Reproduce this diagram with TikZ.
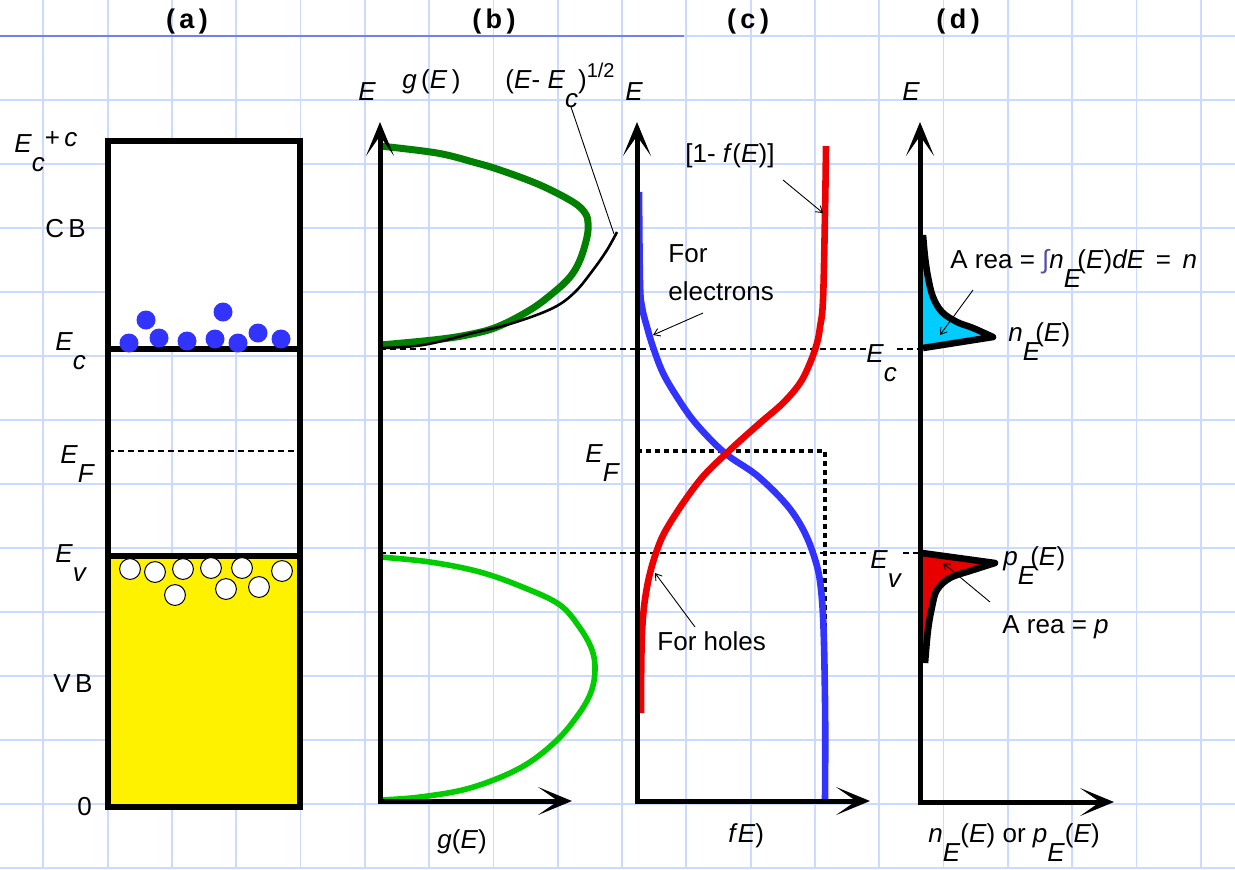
\documentclass[tikz,border=0pt]{standalone}
\usepackage{fontspec}
\setmainfont{Liberation Sans}
\usepackage{xcolor}
\usepackage{tikz}
\usetikzlibrary{arrows.meta}

\definecolor{gridblue}{RGB}{205,218,255}
\definecolor{topblue}{RGB}{110,130,235}
\definecolor{cbgreen}{RGB}{0,128,0}
\definecolor{vbgreen}{RGB}{0,204,0}
\definecolor{fblue}{RGB}{51,51,255}
\definecolor{fred}{RGB}{236,0,0}
\definecolor{ncyan}{RGB}{0,204,255}
\definecolor{pred}{RGB}{232,0,0}
\definecolor{intblue}{RGB}{80,80,170}

\newcommand{\iv}[1]{\textit{#1}}
\newcommand{\lo}[1]{\raisebox{-0.75em}{#1}}

\begin{document}
\begin{tikzpicture}[x=0.5pt, y=-0.5pt, font=\fontsize{13}{15}\selectfont]
    % Define styles
    \tikzstyle{gridline} = [draw=gridblue, line width=0.9pt]
    \tikzstyle{bandedge} = [line width=2.6pt]
    \tikzstyle{axis} = [line width=2.5pt, line join=miter, {Stealth[length=17pt,width=14pt,inset=10pt]}-{Stealth[length=17pt,width=14pt,inset=10pt]}]
    \tikzstyle{level} = [line width=0.7pt, dash pattern=on 3pt off 2pt]
    \tikzstyle{fermibox} = [line width=1.6pt, dash pattern=on 2.5pt off 2pt]
    \tikzstyle{curve} = [line width=3.3pt, line join=round]
    \tikzstyle{areaedge} = [line width=3.3pt, line join=round]
    \tikzstyle{leader} = [line width=0.45pt, -{Straight Barb[length=3pt,width=4pt]}]
    \tikzstyle{electron} = [fill=fblue]
    \tikzstyle{hole} = [fill=white, draw=black, line width=0.5pt]
    \tikzstyle{lbl} = [inner sep=0pt, anchor=base west]
    \tikzstyle{head} = [inner sep=0pt, font=\fontsize{13.5}{15}\selectfont\bfseries]

    \useasboundingbox (0,0) rectangle (1235,869);

    % Grid paper
    \foreach \i in {0,...,18}
        \draw[gridline] ({43.3+64.3*\i},0) -- ({43.3+64.3*\i},869);
    \foreach \j in {0,...,13}
        \draw[gridline] (0,{36+64*\j}) -- (1235,{36+64*\j});
    \draw[topblue, line width=1pt] (0,36) -- (684,36);

    % Headings
    \node[head] (head-a) at (187,22) {(\,a\,)};
    \node[head] (head-b) at (494,22) {(\,b\,)};
    \node[head] (head-c) at (748,22) {(\,c\,)};
    \node[head] (head-d) at (958,22) {(\,d\,)};

    % (a) band diagram
    \fill[white] (108,141) rectangle (300,349);
    \fill[yellow] (108,556) rectangle (300,807);
    \coordinate (a-ec-l) at (108,349);
    \coordinate (a-ec-r) at (300,349);
    \coordinate (a-ef-l) at (108,451);
    \coordinate (a-ef-r) at (300,451);
    \coordinate (a-ev-l) at (108,556);
    \coordinate (a-ev-r) at (300,556);
    \draw[bandedge] (108,141) rectangle (300,807);
    \draw[bandedge] (a-ec-l) -- (a-ec-r);
    \draw[bandedge] (a-ev-l) -- (a-ev-r);
    \draw[level] (a-ef-l) -- (a-ef-r);
    \foreach \x/\y in {129/343, 146/320, 159/338, 187/341, 215/339, 223/312, 238/343, 258/333, 281/339}
        \fill[electron] (\x,\y) circle (4.75pt);
    \foreach \x/\y in {130/569, 155/572, 183/569, 211/568, 242/568, 282/571, 175/595, 226/589, 259/587}
        \draw[hole] (\x,\y) circle (5.2pt);

    \node[lbl] (lbl-ectop) at (14,152) {\iv{E}\lo{\iv{c}}\raisebox{0.2em}{+\,\iv{c}}};
    \node[lbl] (lbl-cb) at (45,237) {C\,B};
    \node[lbl] (lbl-ec) at (55,350) {\iv{E}\lo{\iv{c}}};
    \node[lbl] (lbl-ef) at (60,463) {\iv{E}\lo{\iv{F}}};
    \node[lbl] (lbl-ev) at (55,562) {\iv{E}\lo{\iv{v}}};
    \node[lbl] (lbl-vb) at (53,692) {V\,B};
    \node[lbl] (lbl-zero) at (77,815) {0};

    % Level lines across (b), (c), (d)
    \node[lbl] (lbl-ecd) at (866,362) {\iv{E}\lo{\iv{c}}};
    \node[lbl] (lbl-evd) at (870,568) {\iv{E}\lo{\iv{v}}};
    \coordinate (b-ec) at (380,349);
    \coordinate (d-ec) at (920,349);
    \coordinate (b-ev) at (380,553);
    \coordinate (d-ev) at (920,553);
    \draw[level] (b-ec) -- (lbl-ecd.west |- b-ec);
    \draw[level] (lbl-ecd.east |- b-ec) -- (d-ec);
    \draw[level] (b-ev) -- (lbl-evd.west |- b-ev);
    \draw[level] (lbl-evd.east |- b-ev) -- (d-ev);

    % (b) density of states
    \draw[curve, cbgreen, line width=3.5pt] plot[smooth, tension=0.6] coordinates {(380,146) (437,153) (473,162) (500,170) (540,185) (573,202) (585,213) (588,223) (587,237) (580,260) (570,277) (553,293) (530,310) (497,327) (467,335) (433,340) (380,345)};
    \draw[line width=1.3pt] plot[smooth, tension=0.6] coordinates {(380,348) (423,345) (473,333) (513,323) (553,308) (575,292) (593,270) (607,250) (617,232)};
    \draw[curve, vbgreen, line width=2.8pt] plot[smooth, tension=0.6] coordinates {(380,557) (430,562) (480,572) (525,588) (560,605) (580,628) (592,650) (595,670) (591,692) (578,715) (555,742) (520,768) (470,788) (420,797) (380,800)};
    \coordinate (b-top) at (380,122);
    \coordinate (b-org) at (380,801);
    \coordinate (b-right) at (572,801);
    \draw[axis] (b-top) -- (b-org) -- (b-right);

    \node[lbl] (lbl-eb) at (358,100) {\iv{E}};
    \node[lbl] (lbl-gtop) at (402,88) {\iv{g}\,(\iv{E}\,)};
    \node[lbl] (lbl-sqrt) at (505,88) {(\iv{E}- \iv{E}\lo{\iv{c}})\raisebox{0.4em}{\fontsize{10}{12}\selectfont 1/2}};
    \node[lbl] (lbl-gbot) at (437,848) {\iv{g}(\iv{E})};
    \coordinate (sq-from) at (571,107);
    \coordinate (sq-to) at (614,234);
    \draw[line width=0.45pt] (sq-from) -- (sq-to);

    % (c) occupation probability
    \coordinate (c-ef) at (637,451);
    \coordinate (c-ef-corner) at (825,451);
    \coordinate (c-ef-bottom) at (825,800);
    \draw[fermibox] (c-ef) -- (c-ef-corner) -- (c-ef-bottom);
    \draw[curve, fblue] plot[smooth, tension=0.6] coordinates {(639,192) (640,283) (642,307) (647,327) (653,347) (663,373) (677,397) (693,420) (713,442) (730,457) (760,478) (793,513) (813,553) (822,600) (825,700) (825,800)};
    \draw[curve, fred] plot[smooth, tension=0.6] coordinates {(826,146) (825,213) (823,300) (820,327) (817,343) (810,363) (800,383) (783,403) (760,423) (730,450) (700,480) (670,523) (657,550) (647,587) (642,633) (641,713)};
    \coordinate (c-top) at (637,122);
    \coordinate (c-org) at (637,801);
    \coordinate (c-right) at (870,801);
    \draw[axis] (c-top) -- (c-org) -- (c-right);

    \node[lbl] (lbl-ec2) at (625,100) {\iv{E}};
    \node[lbl] (lbl-onef) at (685,162) {[1- \iv{f}(\iv{E})]};
    \node[lbl] (lbl-for) at (668,262) {For};
    \node[lbl] (lbl-elec) at ([yshift=-19pt]lbl-for.base west) {electrons};
    \node[lbl] (lbl-efc) at (585,462) {\iv{E}\lo{\iv{F}}};
    \node[lbl] (lbl-holes) at (657,650) {For holes};
    \node[lbl] (lbl-fe) at (728,842) {\iv{f}\iv{E})};
    \coordinate (onef-from) at (783,180);
    \coordinate (onef-to) at (823,213);
    \coordinate (elec-from) at (703,313);
    \coordinate (elec-to) at (653,335);
    \coordinate (holes-from) at (695,627);
    \coordinate (holes-to) at (655,573);
    \draw[leader] (onef-from) -- (onef-to);
    \draw[leader] (elec-from) -- (elec-to);
    \draw[leader] (holes-from) -- (holes-to);

    % (d) carrier concentrations
    \fill[ncyan] plot[smooth, tension=0.6] coordinates {(923,235) (925,257) (928,277) (933,297) (942,312) (957,322) (973,328) (993,337)} -- (923,348) -- cycle;
    \draw[areaedge] plot[smooth, tension=0.6] coordinates {(923,235) (925,257) (928,277) (933,297) (942,312) (957,322) (973,328) (993,337)} -- (923,348);
    \fill[pred] (922,553) -- plot[smooth, tension=0.6] coordinates {(995,563) (973,570) (950,578) (937,590) (932,607) (928,630) (925,663)} -- (922,663) -- cycle;
    \draw[areaedge] (922,553) -- plot[smooth, tension=0.6] coordinates {(995,563) (973,570) (950,578) (937,590) (932,607) (928,630) (925,663)};
    \coordinate (d-top) at (920,122);
    \coordinate (d-org) at (920,802);
    \coordinate (d-right) at (1114,802);
    \draw[axis] (d-top) -- (d-org) -- (d-right);

    \node[lbl] (lbl-ed) at (902,100) {\iv{E}};
    \node[lbl] (lbl-arean) at (950,268) {A rea = \textcolor{intblue}{∫}\iv{n}\lo{\iv{E}}\kern-0.15em(\iv{E})\iv{dE} \,=\, \iv{n}};
    \node[lbl] (lbl-ne) at (1008,341) {\iv{n}\lo{\iv{E}}\kern-0.2em(\iv{E})};
    \node[lbl] (lbl-pe) at (1003,565) {\iv{p}\lo{\iv{E}}\kern-0.2em(\iv{E})};
    \node[lbl] (lbl-areap) at (1002,633) {A rea = \iv{p}};
    \node[lbl] (lbl-nor) at (928,842) {\iv{n}\lo{\iv{E}}(\iv{E}) or \iv{p}\lo{\iv{E}}(\iv{E})};
    \coordinate (arean-from) at (973,290);
    \coordinate (arean-to) at (940,335);
    \coordinate (areap-from) at (990,602);
    \coordinate (areap-to) at (943,563);
    \draw[leader] (arean-from) -- (arean-to);
    \draw[leader] (areap-from) -- (areap-to);
\end{tikzpicture}
\end{document}
